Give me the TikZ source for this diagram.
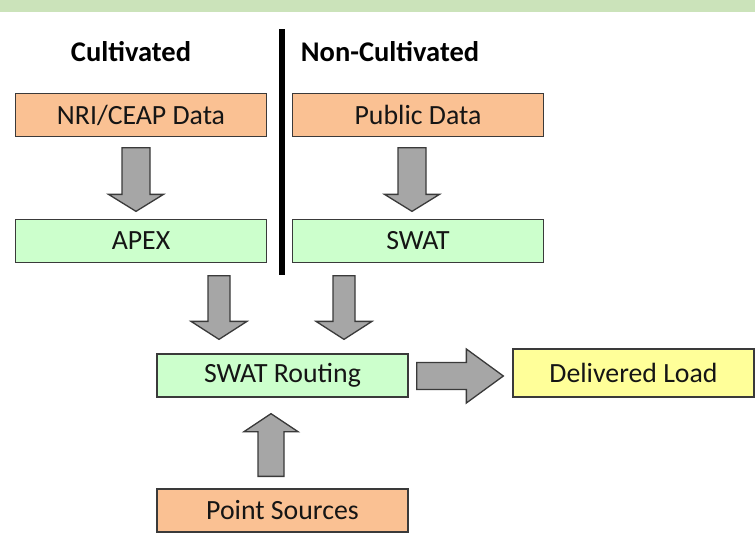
\documentclass[tikz,border=0pt]{standalone}
\usepackage{fontspec}
\setmainfont{Carlito}
\usepackage{xcolor}
\usepackage{tikz}
\usetikzlibrary{calc}
\definecolor{band}{HTML}{CBE3BA}
\definecolor{ink}{HTML}{151515}
\definecolor{boxline}{HTML}{3A3A3A}
\definecolor{orangepale}{HTML}{FAC193}
\definecolor{greenpale}{HTML}{CCFFCC}
\definecolor{yellowpale}{HTML}{FFFF99}
\definecolor{arrowgray}{HTML}{A6A6A6}
\tikzset{
  box/.style={draw=boxline, line width=1.3pt, minimum width=251pt, minimum height=43pt,
    inner sep=0pt, text=ink, font=\fontsize{27.8}{32}\selectfont},
  head/.style={text=black, font=\fontsize{28.5}{33}\selectfont\bfseries},
  fat/.style n args={3}{draw=boxline, fill=arrowgray, line width=1.3pt, line join=miter,
    to path={
      ($(\tikztostart)!#1!90:(\tikztotarget)$) --
      ($(\tikztotarget)!#3!(\tikztostart)!#1!-90:(\tikztostart)$) --
      ($(\tikztotarget)!#3!(\tikztostart)!#2!-90:(\tikztostart)$) --
      (\tikztotarget) --
      ($(\tikztotarget)!#3!(\tikztostart)!#2!90:(\tikztostart)$) --
      ($(\tikztotarget)!#3!(\tikztostart)!#1!90:(\tikztostart)$) --
      ($(\tikztostart)!#1!-90:(\tikztotarget)$) -- cycle}}
}
\begin{document}
\begin{tikzpicture}[x=1pt,y=-1pt]
  \useasboundingbox (0,0) rectangle (755,550);
  \fill[band] (0,0) rectangle (755,12);
  \fill[black] (279,29) rectangle (285,275);

  \node[head] (cult) at (131,52) {Cultivated};
  \node[head] (noncult) at (390,52) {Non-Cultivated};

  \node[box,fill=orangepale] (nri) at (141,115) {NRI/CEAP Data};
  \node[box,fill=orangepale] (pub) at (418,115) {Public Data};
  \node[box,fill=greenpale] (apex) at (141,241) {APEX};
  \node[box,fill=greenpale] (swat) at (418,241) {SWAT};
  \node[box,fill=greenpale] (route) at (282.5,375.5) {SWAT Routing};
  \node[box,fill=yellowpale,minimum width=241pt,minimum height=48pt] (load) at (633.5,373) {Delivered Load};
  \node[box,fill=orangepale] (point) at (282.5,510.5) {Point Sources};

  \coordinate (a1s) at ($(nri.south)+(-5,10.5)$);
  \coordinate (a1e) at ($(apex.north)+(-5,-7.5)$);
  \coordinate (a2s) at ($(pub.south)+(-6,10.5)$);
  \coordinate (a2e) at ($(swat.north)+(-6,-7.5)$);
  \coordinate (a3s) at ($(apex.south)+(78,12.5)$);
  \coordinate (a3e) at ($(route.north)+(-63.5,-14)$);
  \coordinate (a4s) at ($(swat.south)+(-74,12.5)$);
  \coordinate (a4e) at ($(route.north)+(61.5,-14)$);
  \coordinate (a5s) at ($(route.east)+(8,0.5)$);
  \coordinate (a5e) at ($(load.west)+(-9,3)$);
  \coordinate (a6s) at ($(point.north)+(-11.5,-12)$);
  \coordinate (a6e) at ($(route.south)+(-11.5,16)$);

  \draw[fat={14pt}{27.5pt}{17pt}] (a1s) to (a1e);
  \draw[fat={14pt}{27.5pt}{17pt}] (a2s) to (a2e);
  \draw[fat={11pt}{28pt}{18pt}] (a3s) to (a3e);
  \draw[fat={11pt}{28pt}{18pt}] (a4s) to (a4e);
  \draw[fat={13.5pt}{27pt}{37pt}] (a5s) to (a5e);
  \draw[fat={13pt}{27pt}{18pt}] (a6s) to (a6e);
\end{tikzpicture}
\end{document}
